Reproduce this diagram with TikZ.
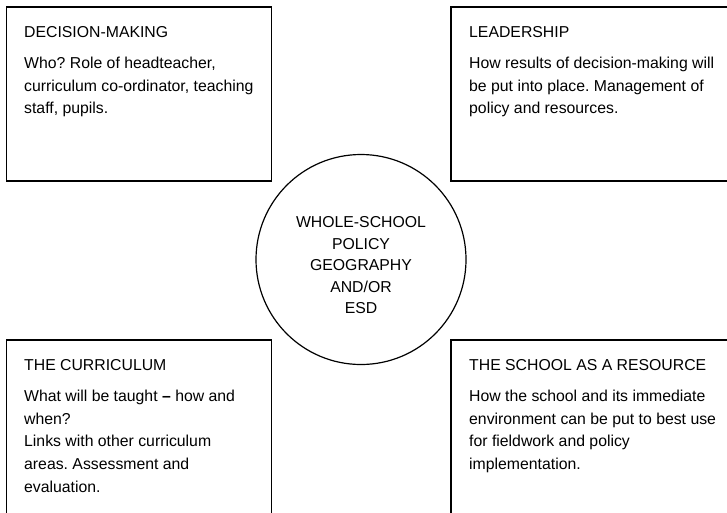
\documentclass[tikz,border=0pt]{standalone}
\usepackage{fontspec}
\setmainfont{Liberation Sans}
\frenchspacing

\begin{document}
\begin{tikzpicture}[x=1pt, y=-1pt,
    panel/.style={draw, line width=1.5pt, minimum width=265pt, minimum height=174pt, anchor=north west, inner sep=0pt},
    paneltext/.style={anchor=north west, align=left, inner sep=0pt, font=\fontsize{15.8}{22.7}\selectfont},
    hub/.style={draw, circle, line width=1.2pt, minimum size=210pt, inner sep=0pt},
    hubtext/.style={align=center, inner sep=0pt, font=\fontsize{15.8}{21.5}\selectfont}]
    \useasboundingbox (0,0) rectangle (727,512);

    % the four corner panels
    \node[panel] (decision) at (5.5,6) {};
    \node[panel, minimum width=300pt] (leader) at (450,6) {};
    \node[panel, minimum height=190pt] (curric) at (5.5,339) {};
    \node[panel, minimum width=300pt, minimum height=190pt] (resource) at (450,339) {};

    \node[paneltext] (decisiontext) at (24,26) {DECISION-MAKING\\[8.5pt]
        Who? Role of headteacher,\\
        curriculum co-ordinator, teaching\\
        staff, pupils.};
    \node[paneltext] (leadertext) at (469,26) {LEADERSHIP\\[8.5pt]
        How results of decision-making will\\
        be put into place. Management of\\
        policy and resources.};
    \node[paneltext] (currictext) at (24,359) {THE CURRICULUM\\[8.5pt]
        What will be taught \textbf{–} how and\\
        when?\\
        Links with other curriculum\\
        areas. Assessment and\\
        evaluation.};
    \node[paneltext] (resourcetext) at (469,359) {THE SCHOOL AS A RESOURCE\\[8.5pt]
        How the school and its immediate\\
        environment can be put to best use\\
        for fieldwork and policy\\
        implementation.};

    % policy in the middle
    \node[hub] (hub) at (361,259.5) {};
    \node[hubtext] (hubtext) at ([yshift=-6pt]hub.center) {WHOLE-SCHOOL\\POLICY\\GEOGRAPHY\\AND/OR\\ESD};
\end{tikzpicture}
\end{document}
